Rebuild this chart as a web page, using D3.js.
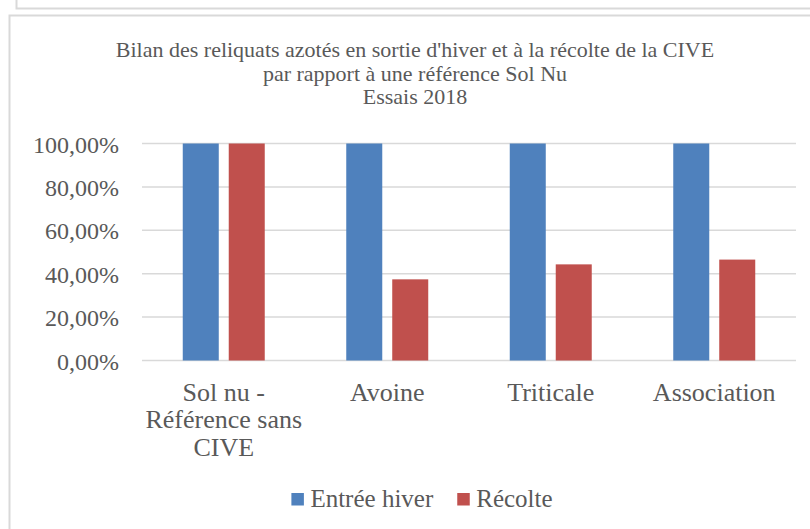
<!DOCTYPE html>
<html>
<head>
<meta charset="utf-8">
<script src="https://cdn.jsdelivr.net/npm/d3@7"></script>
<style>
  body { margin: 0; background: #fff; }
  svg text { font-family: "Liberation Serif", "DejaVu Serif", serif; fill: #595959; }
</style>
</head>
<body>
<div id="chart"></div>
<script>
const categories = ['Sol nu - Référence sans CIVE', 'Avoine', 'Triticale', 'Association'];
const seriesNames = ['Entrée hiver', 'Récolte'];
const entreeHiver = [1.0, 1.0, 1.0, 1.0];
const recolte = [1.0, 0.374, 0.443, 0.465];
const yTicks = [0, 0.2, 0.4, 0.6, 0.8, 1.0];
const titleLines = [
  "Bilan des reliquats azotés en sortie d'hiver et à la récolte de la CIVE",
  'par rapport à une référence Sol Nu',
  'Essais 2018'
];
const colors = ['#4F81BD', '#C0504D'];

const width = 810, height = 529;
const plot = { left: 142, right: 796, top: 143.5, bottom: 360.5 };

const svg = d3.select('#chart').append('svg')
  .attr('width', width)
  .attr('height', height);

// frames (previous block + chart block)
svg.append('path')
  .attr('d', 'M16.5,-2 V8.5 H812')
  .attr('fill', 'none').attr('stroke', '#d9d9d9').attr('stroke-width', 2);
svg.append('path')
  .attr('d', 'M9.5,540 V15.5 H812')
  .attr('fill', 'none').attr('stroke', '#d9d9d9').attr('stroke-width', 2);

// title
svg.append('g').selectAll('text')
  .data(titleLines)
  .enter()
  .append('text')
  .attr('x', 415)
  .attr('y', (d, i) => 57 + i * 23.5)
  .attr('text-anchor', 'middle')
  .style('font-size', '22px')
  .text(d => d);

const x0 = d3.scaleBand()
  .domain(categories)
  .range([plot.left, plot.right])
  .paddingInner(0.4985)
  .paddingOuter(0.4985 / 2);

const x1 = d3.scaleBand()
  .domain(seriesNames)
  .range([0, x0.bandwidth()])
  .paddingInner(0.217);

const y = d3.scaleLinear()
  .domain([0, 1])
  .range([plot.bottom, plot.top]);

// gridlines
svg.append('g').selectAll('line')
  .data(yTicks)
  .enter()
  .append('line')
  .attr('x1', plot.left)
  .attr('x2', plot.right)
  .attr('y1', d => y(d))
  .attr('y2', d => y(d))
  .attr('stroke', '#d9d9d9')
  .attr('stroke-width', 1.5);

// y labels
const fmt = v => d3.format('.2f')(v * 100).replace('.', ',') + '%';
svg.append('g').selectAll('text')
  .data(yTicks)
  .enter()
  .append('text')
  .attr('x', 119)
  .attr('y', d => y(d) + 9)
  .attr('text-anchor', 'end')
  .style('font-size', '24px')
  .text(d => fmt(d));

// bars
const series = [entreeHiver, recolte];
const g = svg.append('g');
series.forEach((vals, si) => {
  g.selectAll('.bar-' + si)
    .data(vals)
    .enter()
    .append('rect')
    .attr('class', 'bar-' + si)
    .attr('x', (d, i) => x0(categories[i]) + x1(seriesNames[si]))
    .attr('y', d => y(d))
    .attr('width', x1.bandwidth())
    .attr('height', d => y(0) - y(d))
    .attr('fill', colors[si]);
});

// category labels, wrapped
const catG = svg.append('g');
categories.forEach(c => {
  const cx = x0(c) + x0.bandwidth() / 2;
  const t = catG.append('text')
    .attr('text-anchor', 'middle')
    .style('font-size', '26px');
  const words = c.split(' ');
  let lines = [], line = [];
  const probe = catG.append('text').style('font-size', '26px');
  words.forEach(w => {
    const test = line.concat([w]).join(' ');
    probe.text(test);
    if (probe.node().getComputedTextLength() > 163 && line.length) {
      lines.push(line.join(' '));
      line = [w];
    } else {
      line.push(w);
    }
  });
  lines.push(line.join(' '));
  probe.remove();
  lines.forEach((l, i) => {
    t.append('tspan').attr('x', cx).attr('y', 400.5 + i * 27.8).text(l);
  });
});

// legend
const legend = svg.append('g');
let lx = 0;
seriesNames.forEach((name, i) => {
  const it = legend.append('g');
  it.append('rect')
    .attr('x', 0).attr('y', 493)
    .attr('width', 12.5).attr('height', 12.5)
    .attr('fill', colors[i]);
  const tt = it.append('text')
    .attr('x', 19).attr('y', 507)
    .style('font-size', '25px')
    .text(name);
  const w = 19 + tt.node().getComputedTextLength();
  it.attr('transform', `translate(${lx},0)`);
  lx += w + 24;
});
const legW = lx - 24;
legend.attr('transform', `translate(${422 - legW / 2},0)`);
</script>
</body>
</html>
